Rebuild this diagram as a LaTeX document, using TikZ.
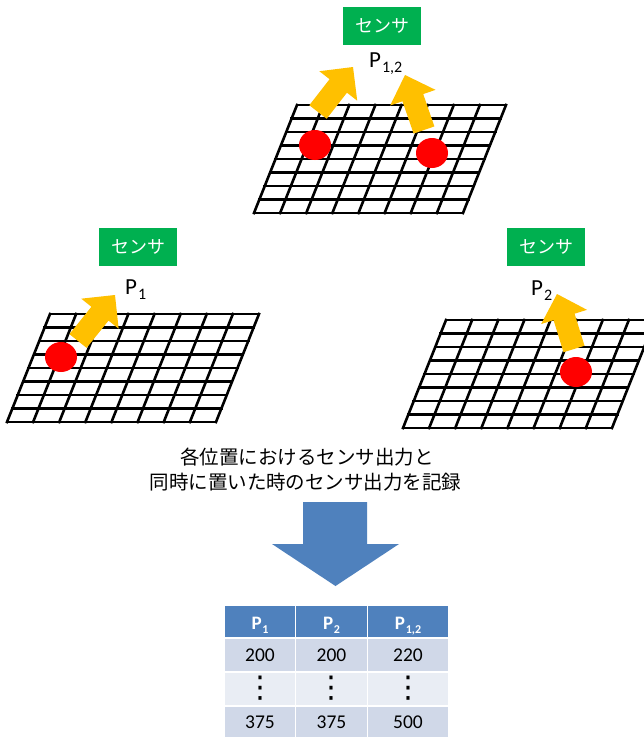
\documentclass[tikz,border=0pt]{standalone}
\usepackage{fontspec}
\setmainfont{Carlito}
\newfontfamily\jp{Noto Sans CJK JP}
\newfontfamily\djv{DejaVu Sans}
\usetikzlibrary{calc}
\definecolor{orangefill}{HTML}{FFC000}
\definecolor{redfill}{HTML}{FF0000}
\definecolor{greenfill}{HTML}{00B050}
\definecolor{bluefill}{HTML}{4F81BD}
\definecolor{rowA}{HTML}{D0D8E8}
\definecolor{rowB}{HTML}{E9EDF4}
\newcommand{\psub}[1]{\kern1pt\raisebox{-5pt}{\fontsize{16}{16}\selectfont #1}}
\newcommand{\hsub}[1]{\kern0.8pt\raisebox{-4.3pt}{\fontsize{12}{12}\selectfont #1}}
\newcommand{\sensorgrid}[2]{%
  \foreach \i in {0,...,8}{%
    \draw[gridline] ({#1+43*\i/8},{#2-108*\i/8}) -- ++(209,0);
    \draw[gridline] ({#1+209*\i/8},{#2}) -- ++(43,-108);
  }}
\newcommand{\blockarrow}[3]{%
  \coordinate (#1t) at (#2);
  \coordinate (#1p) at (#3);
  \coordinate (#1h) at ($(#1p)!24pt!(#1t)$);
  \fill[orangefill] ($(#1t)!11pt!90:(#1p)$) -- ($(#1h)!11pt!90:(#1p)$) -- ($(#1h)!24pt!90:(#1p)$) -- (#1p)
     -- ($(#1h)!24pt!-90:(#1p)$) -- ($(#1h)!11pt!-90:(#1p)$) -- ($(#1t)!11pt!-90:(#1p)$) -- cycle;}
\tikzset{
  gridline/.style={line width=2.6pt, line cap=rect, black},
  sensor/.style={fill=greenfill, text=white, minimum width=78pt, minimum height=38pt, inner sep=0pt,
     font=\jp\fontsize{18}{18}\selectfont},
  plabel/.style={anchor=base west, inner sep=0pt, font=\fontsize{23}{23}\selectfont},
  jptext/.style={inner sep=0pt, font=\jp\fontsize{19.5}{22}\selectfont},
  hdrtext/.style={anchor=base, inner sep=0pt, text=white, font=\bfseries\fontsize{19}{19}\selectfont},
  celltext/.style={inner sep=0pt, font=\fontsize{19.5}{20}\selectfont},
  dotstext/.style={inner sep=0pt, font=\djv\fontsize{30}{30}\selectfont},
  spot/.style={fill=redfill}
}
\begin{document}
\begin{tikzpicture}[x=1pt,y=-1pt]
\useasboundingbox (0,0) rectangle (644,737);
\fill[white] (0,0) rectangle (644,737);

% ---- top: both objects ----
\node[sensor] (s12) at (382,26) {センサ};
\node[plabel] (p12) at (369,67) {P\psub{1,2}};
\sensorgrid{254}{213}
\fill[spot] (315,145) ellipse [x radius=16, y radius=15];
\fill[spot] (432,153) ellipse [x radius=16, y radius=15];
\blockarrow{a1}{318,112}{353,67}
\blockarrow{a2}{424,130}{405,75}

% ---- left: object 1 ----
\node[sensor] (s1) at (138,247) {センサ};
\node[plabel] (p1) at (125,294) {P\psub{1}};
\sensorgrid{7}{422}
\fill[spot] (61,357) ellipse [x radius=16, y radius=15];
\blockarrow{a3}{78,341}{115,295}

% ---- right: object 2 ----
\node[sensor] (s2) at (546,247) {センサ};
\node[plabel] (p2) at (531,295) {P\psub{2}};
\sensorgrid{403}{428}
\fill[spot] (576,372) ellipse [x radius=16, y radius=15];
\blockarrow{a4}{574,349}{557,294}

% ---- caption ----
\node[jptext] (t1) at (307,457) {各位置におけるセンサ出力と};
\node[jptext] (t2) at (305.5,482) {同時に置いた時のセンサ出力を記録};

% ---- big arrow ----
\fill[bluefill] (303,502) -- (367,502) -- (367,544) -- (399,544) -- (335.5,586) -- (272,544) -- (303,544) -- cycle;

% ---- table ----
\fill[bluefill] (225,606) rectangle (448,637);
\fill[rowA] (225,638.5) rectangle (448,671);
\fill[rowB] (225,672.5) rectangle (448,705);
\fill[rowA] (225,706.5) rectangle (448,740);
\draw[white, line width=1.5pt] (295.5,606) -- (295.5,740) (367.5,606) -- (367.5,740);
\node[hdrtext] (h1) at (260,629) {P\hsub{1}};
\node[hdrtext] (h2) at (331.5,629) {P\hsub{2}};
\node[hdrtext] (h3) at (408,629) {P\hsub{1,2}};
\node[celltext] (c11) at (260,655.5) {200};
\node[celltext] (c12) at (331.5,655.5) {200};
\node[celltext] (c13) at (408,655.5) {220};
\node[dotstext] (c21) at (260,688) {⋮};
\node[dotstext] (c22) at (331.5,688) {⋮};
\node[dotstext] (c23) at (408,688) {⋮};
\node[celltext] (c31) at (260,722.5) {375};
\node[celltext] (c32) at (331.5,722.5) {375};
\node[celltext] (c33) at (408,722.5) {500};
\end{tikzpicture}
\end{document}
